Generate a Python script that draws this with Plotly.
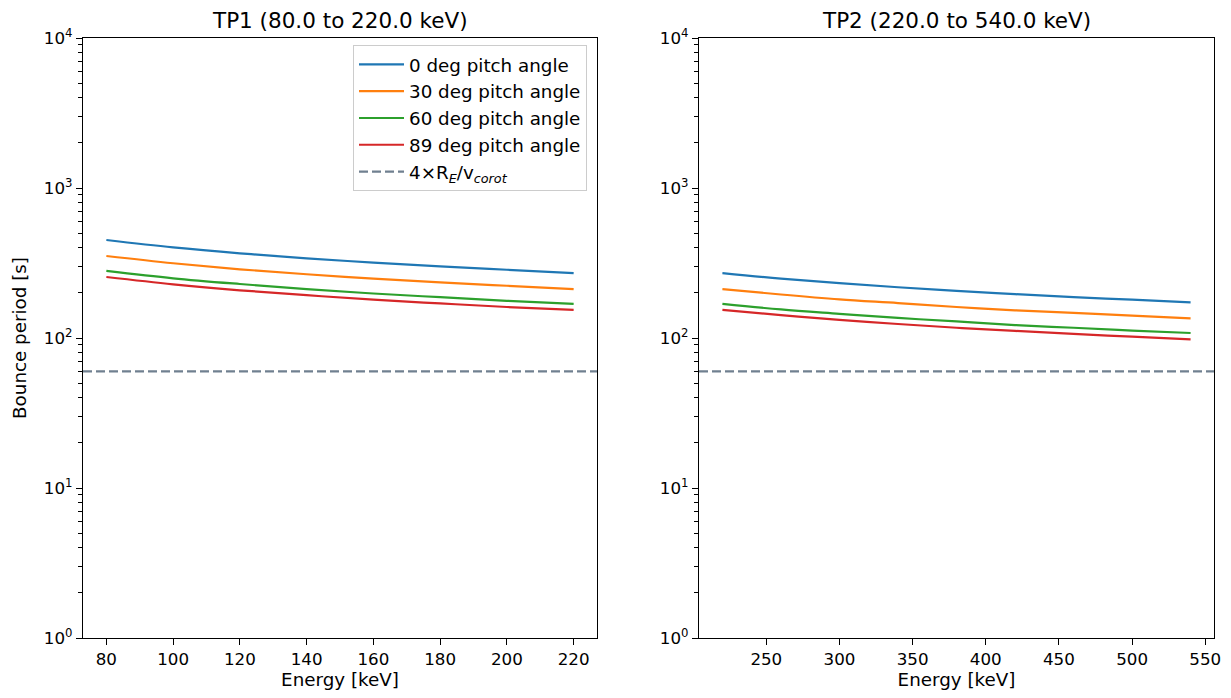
import plotly.graph_objects as go

# ---- data ----
energy_tp1 = [80, 100, 120, 140, 160, 180, 200, 220]
tp1_0deg = [450, 402, 367, 340, 318, 300, 285, 271]
tp1_30deg = [352, 315, 287, 266, 249, 235, 223, 212]
tp1_60deg = [280, 250, 229, 212, 198, 187, 177, 169]
tp1_89deg = [255, 228, 208, 193, 180, 170, 161, 154]

energy_tp2 = [220, 260, 300, 340, 380, 420, 460, 500, 540]
tp2_0deg = [271, 249, 232, 218, 206, 196, 187.5, 180, 173]
tp2_30deg = [212, 195, 181, 171, 161, 153, 147, 141, 135]
tp2_60deg = [169, 155, 145, 136, 129, 122, 117, 112, 108]
tp2_89deg = [154, 142, 132, 124, 117, 111.5, 106.5, 102, 98]

corot_period = 60  # 4 R_E / v_corot [s]

series_names = ["0 deg pitch angle", "30 deg pitch angle",
                "60 deg pitch angle", "89 deg pitch angle"]
colors = ["#1f77b4", "#ff7f0e", "#2ca02c", "#d62728"]
titles = ["TP1 (80.0 to 220.0 keV)", "TP2 (220.0 to 540.0 keV)"]
ytick_vals = [1, 10, 100, 1000, 10000]
ytick_text = ["10<sup>0</sup>", "10<sup>1</sup>", "10<sup>2</sup>", "10<sup>3</sup>", "10<sup>4</sup>"]
xticks_tp1 = [80, 100, 120, 140, 160, 180, 200, 220]
xticks_tp2 = [250, 300, 350, 400, 450, 500, 550]

FONT = "DejaVu Sans"
# page body has an 8px margin in the browser
W, H = 1215, 682
ml, mr, mt, mb = 75, 9, 30, 52
pw = W - ml - mr
ph = H - mt - mb
x1_end = (597 - 83) / pw
x2_start = (699 - 83) / pw

fig = go.Figure()

tp1 = [tp1_0deg, tp1_30deg, tp1_60deg, tp1_89deg]
tp2 = [tp2_0deg, tp2_30deg, tp2_60deg, tp2_89deg]
for i in range(4):
    fig.add_trace(go.Scatter(x=energy_tp1, y=tp1[i], mode="lines", name=series_names[i],
                             line=dict(color=colors[i], width=2.2, shape="spline"),
                             xaxis="x", yaxis="y", legendgroup=str(i)))
for i in range(4):
    fig.add_trace(go.Scatter(x=energy_tp2, y=tp2[i], mode="lines", name=series_names[i],
                             line=dict(color=colors[i], width=2.2, shape="spline"),
                             xaxis="x2", yaxis="y2", legendgroup=str(i), showlegend=False))
fig.add_trace(go.Scatter(x=[None], y=[None], mode="lines",
                         name="4×R<sub><i>E</i></sub>/v<sub><i>corot</i></sub>",
                         line=dict(color="#708090", width=2.2, dash="9px,4px"),
                         xaxis="x", yaxis="y"))

for xr, yr in (("x domain", "y"), ("x2 domain", "y2")):
    fig.add_shape(type="line", xref=xr, yref=yr, x0=0, x1=1, y0=corot_period, y1=corot_period,
                  line=dict(color="#708090", width=2.2, dash="9px,4px"), layer="above")

axis_common = dict(showline=True, linecolor="black", linewidth=1.3, mirror=True,
                   ticks="outside", ticklen=6, tickwidth=1.3, tickcolor="black",
                   showgrid=False, zeroline=False, automargin=False,
                   tickfont=dict(family=FONT, size=16.7, color="black"))
minor_vals = [m * d for d in (1, 10, 100, 1000) for m in range(2, 10)]
yaxis_common = dict(axis_common, type="log", range=[0, 4], tickmode="array",
                    tickvals=ytick_vals, ticktext=ytick_text,
                    minor=dict(tickmode="array", tickvals=minor_vals, ticks="outside",
                               ticklen=3.5, tickwidth=1, tickcolor="black", showgrid=False))
label_font = dict(family=FONT, size=18.3, color="black")

fig.update_layout(
    width=W, height=H,
    margin=dict(l=ml, r=mr, t=mt, b=mb, autoexpand=False),
    paper_bgcolor="white", plot_bgcolor="white",
    font=dict(family=FONT, size=16.7, color="black"),
    xaxis=dict(axis_common, domain=[0, x1_end], range=[73, 227], tickmode="array",
               tickvals=xticks_tp1, anchor="y",
               title=dict(text="Energy [keV]", font=label_font, standoff=2)),
    xaxis2=dict(axis_common, domain=[x2_start, 1], range=[204, 556], tickmode="array",
                tickvals=xticks_tp2, anchor="y2",
                title=dict(text="Energy [keV]", font=label_font, standoff=2)),
    yaxis=dict(yaxis_common, anchor="x",
               title=dict(text="Bounce period [s]", font=label_font, standoff=12)),
    yaxis2=dict(yaxis_common, anchor="x2"),
    showlegend=True,
    legend=dict(x=(587 - 83) / pw, y=(638 - 45) / ph, xanchor="right", yanchor="top",
                bgcolor="rgba(255,255,255,0.8)", bordercolor="#cccccc", borderwidth=1,
                itemwidth=45,
                font=dict(family=FONT, size=18.3, color="black"), tracegroupgap=0),
)

for xc, t in ((x1_end / 2, titles[0]), ((x2_start + 1) / 2, titles[1])):
    fig.add_annotation(text=t, x=xc, y=1, xref="paper", yref="paper", xanchor="center",
                       yanchor="bottom", yshift=3, showarrow=False,
                       font=dict(family=FONT, size=21.5, color="black"))

fig.write_html("out.html")
